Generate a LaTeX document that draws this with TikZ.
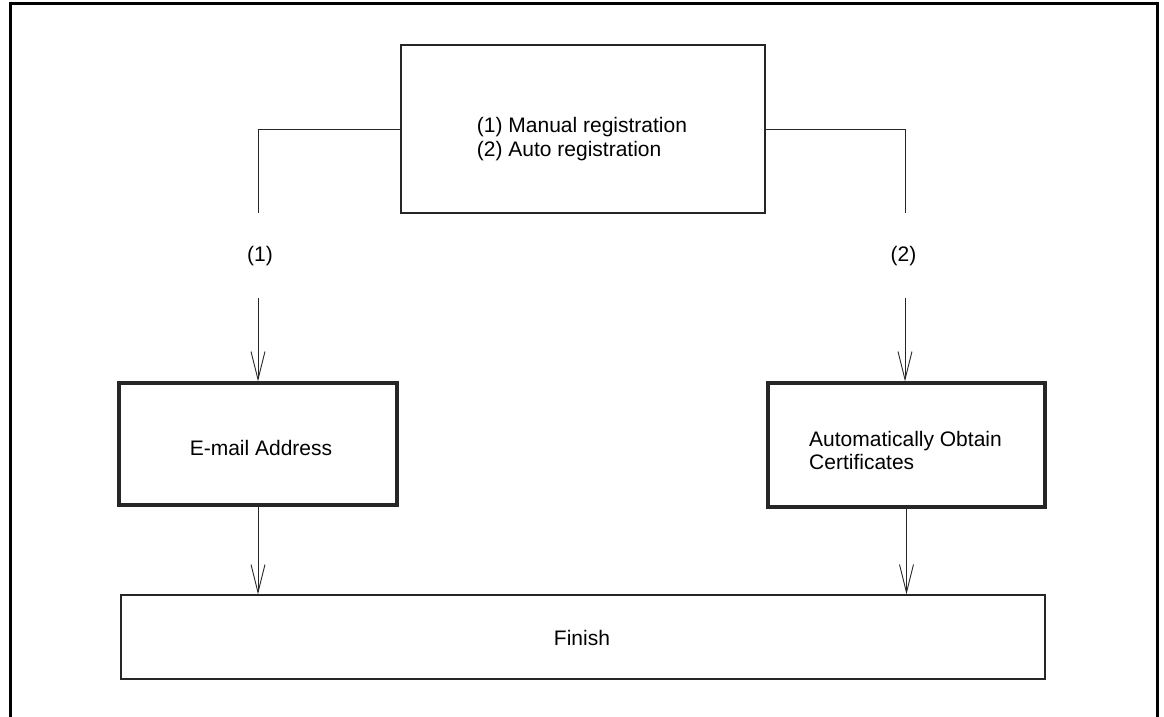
\documentclass[tikz,border=0pt]{standalone}
\usepackage{fontspec}
\setmainfont{Liberation Sans}
\usetikzlibrary{arrows.meta}
\begin{document}
\begin{tikzpicture}[x=1pt,y=-1pt,
  thinbox/.style={draw=black!85,line width=1.3pt,inner sep=0pt},
  thickbox/.style={draw=black!85,line width=3.2pt,inner sep=0pt},
  conn/.style={draw=black!85,line width=0.9pt},
  arr/.style={conn,-{Straight Barb[length=28pt,width=14pt,line width=0.9pt]}},
  lbl/.style={font=\fontsize{21}{23.5}\selectfont,inner sep=0pt}]
\useasboundingbox (0,0) rectangle (1164,717);
\coordinate (f1) at (10,725);
\coordinate (f2) at (10,4);
\coordinate (f3) at (1157,4);
\coordinate (f4) at (1157,725);
\draw[line width=3pt] (f1) -- (f2) -- (f3) -- (f4);

\node[thinbox,minimum width=364pt,minimum height=168pt] (top) at (583,129) {};
\node[lbl,align=left] (toptext) at (582,139) {(1) Manual registration\\(2) Auto registration};

\node[thickbox,minimum width=278pt,minimum height=122pt] (mail) at (258,444) {};
\node[lbl] (mailtext) at (261,447.5) {E-mail Address};

\node[thickbox,minimum width=277pt,minimum height=124pt] (auto) at (906.5,445) {};
\node[lbl,align=left] (autotext) at (905.5,450.5) {Automatically Obtain\\Certificates};

\node[thinbox,minimum width=924pt,minimum height=84pt] (fin) at (583,637) {};
\node[lbl] (fintext) at (582,637.5) {Finish};

\coordinate (l1) at (258,129);
\coordinate (l2) at (258,213);
\coordinate (l3) at (258,298);
\node[lbl] (lab1) at (260,256) {(1)};
\coordinate (r1) at (905,129);
\coordinate (r2) at (905,213);
\coordinate (r3) at (905,298);
\node[lbl] (lab2) at (903.5,256) {(2)};

\draw[conn] (top.west) -- (l1) -- (l2);
\draw[conn] (top.east) -- (r1) -- (r2);
\draw[arr] (l3) -- (l3 |- mail.north);
\draw[arr] (r3) -- (r3 |- auto.north);
\draw[arr] (mail.south) -- (mail.south |- fin.north);
\draw[arr] (auto.south) -- (auto.south |- fin.north);
\end{tikzpicture}
\end{document}
